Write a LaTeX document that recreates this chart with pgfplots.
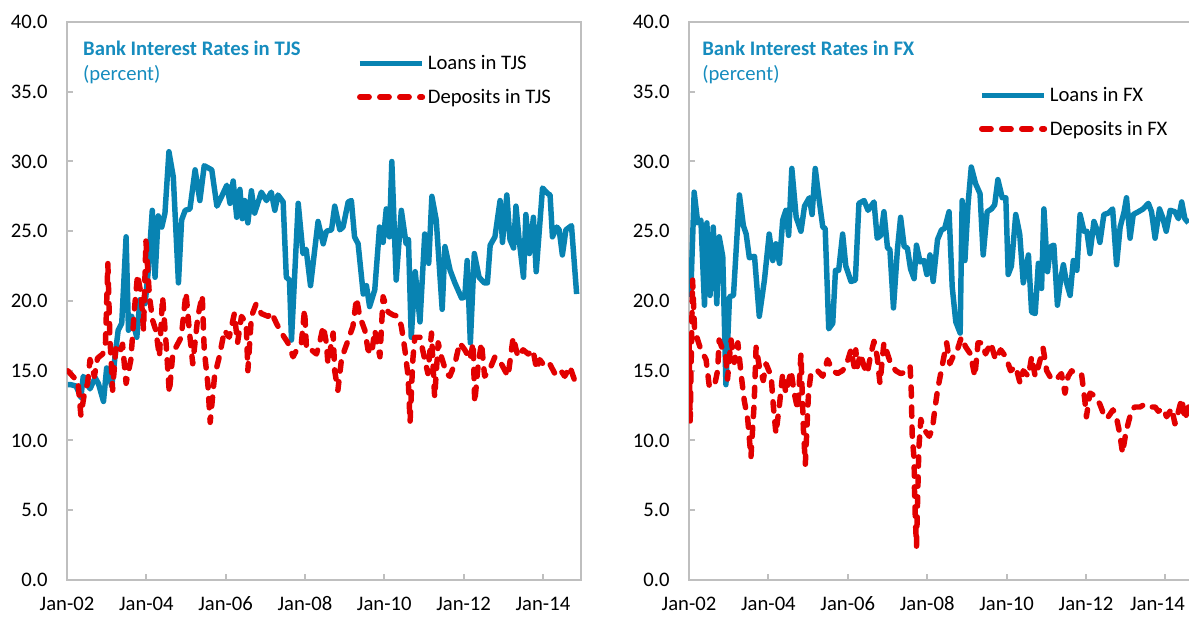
\documentclass[border=0pt]{standalone}
\usepackage{fontspec}
\setmainfont{Carlito}
\usepackage{pgfplots}
\pgfplotsset{compat=1.18}

\definecolor{loanblue}{RGB}{8,131,178}
\definecolor{titleblue}{RGB}{22,140,190}
\definecolor{depred}{RGB}{226,0,0}
\definecolor{framegray}{RGB}{191,191,191}

\newcommand{\txt}{\fontsize{15.5}{18}\selectfont}

\pgfplotsset{
  rates/.style={
    scale only axis,
    height=418.5pt,
    anchor=south west,
    xmin=2002, ymin=0, ymax=40,
    xtick={2002,2004,...,2014},
    xticklabels={Jan-02,Jan-04,Jan-06,Jan-08,Jan-10,Jan-12,Jan-14},
    ytick={0,5,...,40},
    yticklabel style={/pgf/number format/.cd,fixed,fixed zerofill,precision=1,assume math mode=true,/tikz/.cd},
    ticklabel style={font=\txt, text=black},
    xticklabel style={yshift=-9pt},
    yticklabel style={xshift=-11pt},
    axis line style={framegray, line width=1.5pt},
    tick style={framegray, line width=1.5pt},
    major tick length=4.5pt,
    tick align=inside,
    xtick pos=bottom, ytick pos=left,
    legend style={draw=none, fill=none, font=\txt, anchor=north west,
      row sep=9pt, cells={anchor=west}},
    legend image code/.code={\draw[#1] (0pt,0pt) -- (47pt,0pt);},
  },
  loan/.style={loanblue, line width=4.1pt, line join=round},
  dep/.style={depred, line width=4.1pt, line cap=round, line join=round,
    dash pattern=on 7pt off 8pt},
}

\begin{document}
\begin{tikzpicture}
\useasboundingbox (0,0) rectangle (891.75pt,465pt);

% ---- TJS panel ----
\begin{axis}[rates, at={(50.25pt,30pt)}, width=385.5pt, xmax=2014.96,
  legend style={at={(0.556,0.95)}}]
\addplot[loan] coordinates {
(2002.02,14.0)(2002.10,14.0)(2002.23,13.9)(2002.35,13.1)(2002.41,14.6)(2002.50,14.2)(2002.58,13.7)(2002.71,14.5)(2002.79,14.1)(2002.92,12.8)(2003.00,15.2)(2003.13,13.9)(2003.21,16.0)(2003.29,17.9)(2003.38,18.4)(2003.49,24.6)(2003.55,17.9)(2003.63,18.9)(2003.76,17.4)(2003.84,20.1)(2003.97,19.8)(2004.05,22.2)(2004.15,26.5)(2004.22,21.7)(2004.30,26.1)(2004.39,25.3)(2004.47,26.3)(2004.57,30.7)(2004.68,28.9)(2004.81,21.3)(2004.89,25.8)(2004.98,26.5)(2005.10,26.6)(2005.23,29.4)(2005.35,27.2)(2005.46,29.7)(2005.65,29.4)(2005.78,26.8)(2005.90,27.5)(2006.03,28.3)(2006.11,27.0)(2006.19,28.6)(2006.28,26.0)(2006.36,28.0)(2006.42,25.9)(2006.48,27.2)(2006.56,25.6)(2006.65,27.9)(2006.73,26.3)(2006.90,27.8)(2007.03,27.2)(2007.15,27.8)(2007.24,26.5)(2007.32,27.6)(2007.45,27.1)(2007.53,21.7)(2007.61,21.5)(2007.66,17.2)(2007.83,27.0)(2007.95,23.4)(2008.03,23.7)(2008.14,21.1)(2008.33,25.7)(2008.46,24.1)(2008.54,25.0)(2008.67,25.1)(2008.75,26.8)(2008.88,25.1)(2008.96,25.3)(2009.09,27.1)(2009.17,27.2)(2009.25,24.6)(2009.34,24.1)(2009.47,20.5)(2009.55,21.1)(2009.63,19.6)(2009.76,20.8)(2009.88,25.3)(2009.97,24.2)(2010.05,26.6)(2010.13,24.6)(2010.19,30.0)(2010.30,21.5)(2010.43,26.5)(2010.55,24.1)(2010.61,24.4)(2010.68,17.4)(2010.78,22.1)(2010.90,18.5)(2011.02,24.8)(2011.12,22.7)(2011.20,27.5)(2011.31,25.8)(2011.46,19.4)(2011.53,23.9)(2011.66,22.2)(2011.78,21.3)(2011.95,20.2)(2012.03,20.3)(2012.09,22.9)(2012.17,17.0)(2012.27,23.4)(2012.39,21.7)(2012.52,21.3)(2012.60,21.3)(2012.67,24.0)(2012.79,24.6)(2012.92,27.2)(2012.98,24.2)(2013.09,27.6)(2013.17,24.4)(2013.26,23.8)(2013.32,26.8)(2013.40,24.4)(2013.51,21.7)(2013.57,26.2)(2013.66,23.4)(2013.76,26.0)(2013.83,22.1)(2013.91,25.1)(2013.99,28.1)(2014.12,27.7)(2014.18,27.6)(2014.24,24.6)(2014.35,25.3)(2014.41,25.1)(2014.49,23.3)(2014.58,25.1)(2014.72,25.4)(2014.85,20.5)
};
\addlegendentry{Loans in TJS}
\addplot[dep] coordinates {
(2002.02,15.0)(2002.18,14.5)(2002.27,14.4)(2002.35,11.8)(2002.44,13.4)(2002.52,14.1)(2002.58,15.8)(2002.69,14.6)(2002.77,15.9)(2002.90,16.2)(2002.97,17.0)(2003.03,22.7)(2003.08,17.5)(2003.15,13.6)(2003.23,16.6)(2003.32,16.2)(2003.40,16.9)(2003.49,14.1)(2003.61,15.8)(2003.70,19.4)(2003.78,21.9)(2003.87,20.4)(2003.93,17.9)(2003.99,24.3)(2004.08,20.3)(2004.16,18.6)(2004.24,17.9)(2004.33,16.0)(2004.41,20.3)(2004.50,16.9)(2004.58,13.4)(2004.66,16.0)(2004.75,16.7)(2004.88,17.4)(2005.00,20.6)(2005.09,17.7)(2005.17,15.5)(2005.30,18.9)(2005.41,20.4)(2005.46,16.5)(2005.55,14.1)(2005.61,11.3)(2005.72,14.6)(2005.84,16.0)(2005.97,17.9)(2006.09,17.4)(2006.22,19.1)(2006.30,17.0)(2006.40,18.9)(2006.52,18.4)(2006.56,15.0)(2006.65,18.9)(2006.77,19.8)(2006.90,19.1)(2007.07,18.9)(2007.15,19.2)(2007.28,18.4)(2007.41,17.7)(2007.57,17.0)(2007.70,16.0)(2007.83,16.7)(2007.91,17.0)(2007.99,19.4)(2008.04,16.5)(2008.16,16.5)(2008.29,16.2)(2008.37,17.0)(2008.46,18.2)(2008.54,17.0)(2008.58,15.5)(2008.71,17.7)(2008.75,15.0)(2008.83,13.6)(2008.92,15.8)(2009.00,16.5)(2009.09,17.2)(2009.21,18.2)(2009.30,20.2)(2009.38,18.9)(2009.51,17.9)(2009.59,16.5)(2009.68,16.2)(2009.76,17.9)(2009.89,16.0)(2009.97,20.3)(2010.10,19.2)(2010.22,19.0)(2010.35,18.9)(2010.43,18.2)(2010.52,16.5)(2010.60,14.6)(2010.65,11.3)(2010.72,15.8)(2010.77,17.4)(2010.90,17.4)(2011.02,15.8)(2011.10,14.8)(2011.19,17.7)(2011.27,13.1)(2011.36,17.0)(2011.44,16.0)(2011.57,14.8)(2011.65,14.6)(2011.78,15.5)(2011.90,17.0)(2012.03,16.5)(2012.16,15.8)(2012.24,17.0)(2012.28,12.7)(2012.37,15.5)(2012.45,17.0)(2012.53,14.6)(2012.66,15.1)(2012.79,16.0)(2012.95,15.5)(2013.12,14.6)(2013.25,17.4)(2013.37,16.0)(2013.50,16.5)(2013.63,16.2)(2013.75,16.5)(2013.84,15.1)(2013.92,15.8)(2014.05,15.3)(2014.17,15.5)(2014.30,14.8)(2014.43,15.1)(2014.55,14.6)(2014.68,15.3)(2014.80,14.3)(2014.85,14.2)
};
\addlegendentry{Deposits in TJS}
\node[anchor=west, font=\txt\bfseries, text=titleblue, inner sep=0pt] at (rel axis cs:0.031,0.953) {Bank Interest Rates in TJS};
\node[anchor=west, font=\txt, text=titleblue, inner sep=0pt] at (rel axis cs:0.031,0.905) {(percent)};
\end{axis}

% ---- FX panel ----
\begin{axis}[rates, at={(516.75pt,30pt)}, width=378pt, xmax=2014.695,
  xticklabels={Jan-02,Jan-04,Jan-06,Jan-08,Jan-10,Jan-12,\hspace*{-12pt}Jan-14},
  legend style={at={(0.567,0.893)}}]
\addplot[loan] coordinates {
(2002.00,20.3)(2002.05,21.0)(2002.13,27.8)(2002.22,25.6)(2002.30,25.8)(2002.39,19.7)(2002.45,25.6)(2002.53,20.4)(2002.61,25.3)(2002.70,19.8)(2002.76,24.6)(2002.85,23.2)(2002.93,14.0)(2003.02,20.3)(2003.12,20.4)(2003.27,27.6)(2003.37,25.4)(2003.44,24.8)(2003.52,23.1)(2003.65,23.2)(2003.77,18.9)(2003.90,21.5)(2004.02,24.8)(2004.11,22.9)(2004.19,24.1)(2004.28,22.7)(2004.36,25.8)(2004.44,26.5)(2004.51,24.7)(2004.59,29.5)(2004.70,26.0)(2004.82,25.0)(2004.91,26.8)(2005.03,27.4)(2005.10,26.2)(2005.18,29.5)(2005.28,27.2)(2005.37,25.3)(2005.43,25.2)(2005.52,18.0)(2005.62,18.4)(2005.69,22.2)(2005.77,22.2)(2005.87,24.8)(2005.95,22.5)(2006.08,21.4)(2006.19,21.5)(2006.28,27.0)(2006.41,27.2)(2006.51,26.5)(2006.66,27.1)(2006.74,24.5)(2006.83,24.7)(2006.91,26.4)(2007.00,23.8)(2007.06,23.7)(2007.15,19.5)(2007.25,23.7)(2007.33,26.0)(2007.42,23.9)(2007.50,23.8)(2007.58,22.3)(2007.67,21.6)(2007.73,24.0)(2007.82,22.8)(2007.92,22.9)(2007.99,21.9)(2008.07,23.3)(2008.15,21.4)(2008.26,24.4)(2008.36,25.1)(2008.44,25.2)(2008.55,26.4)(2008.63,21.0)(2008.72,18.5)(2008.83,17.7)(2008.88,27.2)(2008.95,22.9)(2009.03,27.0)(2009.11,29.6)(2009.22,28.4)(2009.33,27.7)(2009.41,23.3)(2009.51,26.4)(2009.62,26.6)(2009.70,26.9)(2009.78,28.7)(2009.89,27.4)(2009.98,27.4)(2010.04,21.9)(2010.12,22.5)(2010.23,26.2)(2010.33,24.8)(2010.42,21.3)(2010.55,23.3)(2010.63,19.2)(2010.72,19.1)(2010.80,22.7)(2010.88,20.9)(2010.94,26.6)(2011.03,22.1)(2011.11,23.9)(2011.19,24.0)(2011.28,19.7)(2011.36,21.5)(2011.43,22.6)(2011.51,21.3)(2011.60,20.4)(2011.68,22.9)(2011.77,22.2)(2011.85,26.2)(2011.95,25.0)(2012.02,25.0)(2012.10,23.4)(2012.20,25.7)(2012.29,25.0)(2012.35,24.2)(2012.45,26.2)(2012.56,26.3)(2012.67,26.6)(2012.77,22.6)(2012.86,25.3)(2012.96,26.4)(2013.02,27.4)(2013.11,24.5)(2013.19,26.2)(2013.32,26.4)(2013.44,26.6)(2013.57,27.0)(2013.65,26.4)(2013.74,24.5)(2013.85,26.6)(2013.93,26.0)(2014.02,25.0)(2014.12,26.5)(2014.24,26.4)(2014.33,25.9)(2014.41,27.1)(2014.49,25.9)(2014.58,25.6)
};
\addlegendentry{Loans in FX}
\addplot[dep] coordinates {
(2002.00,17.2)(2002.03,11.4)(2002.09,21.5)(2002.14,18.0)(2002.22,17.2)(2002.30,16.5)(2002.43,15.8)(2002.51,13.9)(2002.64,13.9)(2002.72,15.0)(2002.76,17.2)(2002.85,16.5)(2002.92,16.2)(2002.97,14.4)(2003.06,17.2)(2003.14,15.6)(2003.23,17.0)(2003.31,14.8)(2003.39,12.9)(2003.48,11.5)(2003.56,8.8)(2003.64,12.6)(2003.69,16.7)(2003.77,15.3)(2003.87,14.3)(2003.94,15.5)(2004.07,14.6)(2004.12,12.6)(2004.19,10.5)(2004.28,12.6)(2004.36,14.8)(2004.44,13.4)(2004.57,15.0)(2004.65,13.4)(2004.74,12.2)(2004.82,16.2)(2004.88,10.9)(2004.93,8.3)(2005.01,13.4)(2005.07,14.8)(2005.16,14.8)(2005.24,15.0)(2005.37,14.6)(2005.49,15.8)(2005.62,15.0)(2005.74,14.8)(2005.86,15.0)(2005.95,15.3)(2006.08,16.5)(2006.16,15.3)(2006.20,16.5)(2006.24,15.3)(2006.32,16.2)(2006.41,15.3)(2006.49,14.8)(2006.58,16.2)(2006.66,17.1)(2006.74,16.0)(2006.81,14.1)(2006.91,17.0)(2007.00,16.2)(2007.08,15.5)(2007.21,15.0)(2007.33,14.8)(2007.46,14.9)(2007.57,15.3)(2007.60,13.4)(2007.62,10.5)(2007.67,8.6)(2007.68,6.4)(2007.70,4.5)(2007.73,2.4)(2007.79,9.5)(2007.84,11.5)(2007.92,10.8)(2008.05,10.3)(2008.13,10.8)(2008.19,12.2)(2008.26,13.6)(2008.34,14.8)(2008.42,16.0)(2008.49,17.0)(2008.57,15.5)(2008.68,16.2)(2008.76,16.5)(2008.86,17.4)(2008.97,16.7)(2009.09,16.2)(2009.20,14.6)(2009.28,17.0)(2009.39,17.0)(2009.47,16.2)(2009.60,17.0)(2009.72,15.8)(2009.85,16.5)(2009.98,16.0)(2010.10,15.0)(2010.23,15.3)(2010.34,14.1)(2010.42,15.0)(2010.55,14.6)(2010.63,16.0)(2010.72,14.6)(2010.80,15.3)(2010.92,16.6)(2011.01,15.0)(2011.13,14.4)(2011.26,14.4)(2011.38,14.8)(2011.47,13.4)(2011.55,14.6)(2011.64,15.0)(2011.76,14.7)(2011.89,14.7)(2011.97,12.9)(2012.01,11.7)(2012.10,13.4)(2012.22,13.2)(2012.35,12.6)(2012.48,11.6)(2012.56,11.7)(2012.68,12.2)(2012.77,11.6)(2012.85,10.5)(2012.92,9.1)(2013.00,10.5)(2013.06,11.2)(2013.15,12.2)(2013.23,12.4)(2013.36,12.4)(2013.48,12.6)(2013.61,12.4)(2013.74,12.4)(2013.82,12.1)(2013.95,12.3)(2014.03,11.7)(2014.16,12.3)(2014.24,11.2)(2014.32,12.0)(2014.41,13.0)(2014.49,11.5)(2014.58,12.4)
};
\addlegendentry{Deposits in FX}
\node[anchor=west, font=\txt\bfseries, text=titleblue, inner sep=0pt] at (rel axis cs:0.026,0.953) {Bank Interest Rates in FX};
\node[anchor=west, font=\txt, text=titleblue, inner sep=0pt] at (rel axis cs:0.026,0.905) {(percent)};
\end{axis}
\end{tikzpicture}
\end{document}
